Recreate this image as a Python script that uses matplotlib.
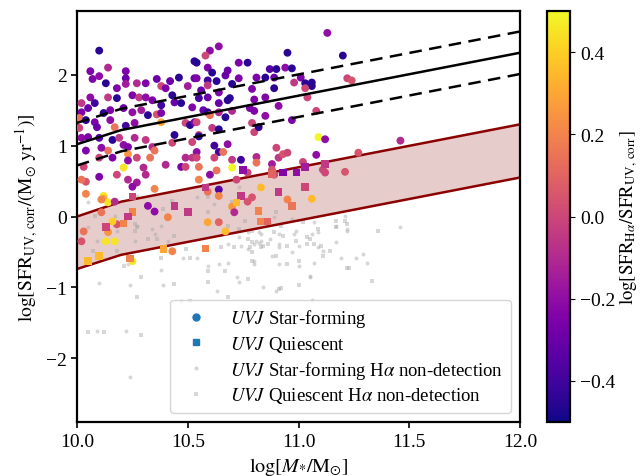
import numpy as np
import matplotlib
matplotlib.use('Agg')
import matplotlib.pyplot as plt
from matplotlib.lines import Line2D

plt.rcParams['font.family'] = ['Liberation Serif', 'DejaVu Serif']
plt.rcParams['mathtext.fontset'] = 'stix'
plt.rcParams['font.size'] = 14

# UVJ star-forming, H-alpha detected: mass, SFR_UV, log(SFR_Ha/SFR_UV)
sf_data = [
    (10.10, 2.34, -0.45), (10.06, 2.05, -0.25), (10.14, 2.10, -0.10), (10.07, 1.94, -0.25),
    (10.10, 1.98, -0.20), (10.13, 1.88, -0.45), (10.22, 2.05, -0.25), (10.22, 1.95, -0.30),
    (10.22, 1.87, -0.15), (10.18, 1.81, -0.25), (10.27, 1.88, -0.10), (10.31, 1.88, -0.25),
    (10.36, 1.94, -0.30), (10.38, 1.84, 0.00), (10.40, 1.81, -0.25), (10.42, 1.91, -0.30),
    (10.46, 1.96, -0.45), (10.50, 1.84, -0.15), (10.53, 2.19, -0.45), (10.53, 1.95, -0.30),
    (10.06, 1.68, -0.20), (10.02, 1.60, -0.05), (10.08, 1.60, -0.40), (10.14, 1.68, -0.05),
    (10.18, 1.67, -0.45), (10.25, 1.71, -0.25), (10.28, 1.68, -0.05), (10.31, 1.68, -0.20),
    (10.34, 1.64, -0.25), (10.38, 1.57, -0.40), (10.43, 1.71, -0.45), (10.44, 1.61, -0.30),
    (10.47, 1.60, -0.45), (10.52, 1.54, -0.25), (10.02, 1.47, -0.25), (10.05, 1.53, -0.30),
    (10.12, 1.46, -0.45), (10.15, 1.50, -0.25), (10.21, 1.53, -0.30), (10.25, 1.47, -0.20),
    (10.29, 1.50, -0.15), (10.32, 1.43, -0.45), (10.36, 1.44, 0.05), (10.38, 1.46, -0.25),
    (10.01, 1.39, 0.15), (10.04, 1.36, -0.45), (10.08, 1.33, -0.25), (10.15, 1.36, -0.20),
    (10.17, 1.26, 0.15), (10.22, 1.28, -0.40), (10.26, 1.32, -0.20), (10.38, 1.33, 0.30),
    (10.49, 1.32, 0.00), (10.51, 1.29, -0.45), (10.53, 1.33, -0.25),
    (10.04, 0.93, -0.25), (10.14, 0.93, 0.15), (10.11, 0.97, -0.20), (10.16, 1.08, -0.45),
    (10.19, 1.11, -0.05), (10.21, 1.01, -0.20), (10.23, 0.98, -0.25), (10.26, 1.11, -0.10),
    (10.31, 1.08, -0.05), (10.34, 0.98, -0.10), (10.35, 0.93, 0.15), (10.23, 0.88, 0.25),
    (10.23, 0.79, -0.20), (10.27, 0.83, 0.00), (10.33, 0.83, 0.15), (10.16, 0.83, -0.25),
    (10.10, 0.83, 0.00), (10.21, 0.69, 0.45), (10.30, 0.69, -0.10), (10.40, 0.73, -0.10),
    (10.47, 0.70, -0.25), (10.49, 0.83, -0.10), (10.52, 0.83, -0.05), (10.52, 1.05, 0.00),
    (10.44, 1.15, -0.45), (10.10, 0.56, -0.25), (10.18, 0.59, 0.00), (10.23, 0.52, -0.10),
    (10.27, 0.48, -0.15), (10.31, 0.59, -0.10), (10.35, 0.39, 0.20), (10.04, 0.32, 0.20),
    (10.12, 0.29, 0.45), (10.12, 0.25, 0.30), (10.14, 0.20, 0.45), (10.17, 0.21, -0.10),
    (10.32, 0.15, -0.20), (10.25, 0.42, -0.20), (10.04, 0.49, 0.05),
    (10.64, 2.40, -0.20), (10.60, 2.34, -0.20), (10.58, 2.27, 0.00), (10.54, 2.17, -0.45),
    (10.73, 2.17, -0.25), (10.77, 2.17, -0.45), (10.95, 2.31, -0.45), (10.59, 2.10, -0.25),
    (10.61, 2.03, -0.45), (10.68, 2.06, -0.30), (10.67, 1.99, -0.30), (10.54, 1.95, -0.25),
    (10.59, 1.92, -0.40), (10.63, 1.91, -0.45), (10.73, 1.95, -0.25), (10.81, 1.96, -0.25),
    (10.85, 1.96, -0.45), (10.87, 2.08, -0.35), (10.90, 2.08, -0.45), (10.94, 2.10, -0.20),
    (10.97, 2.09, -0.45), (10.59, 1.85, -0.05), (10.89, 1.96, -0.30), (10.89, 1.81, -0.45),
    (10.98, 1.89, -0.05), (11.01, 1.96, -0.25), (11.03, 1.88, -0.45), (11.06, 1.89, -0.45),
    (11.06, 1.84, -0.45), (11.03, 1.81, 0.00), (10.56, 1.78, -0.30), (10.64, 1.75, -0.25),
    (10.70, 1.87, -0.45), (10.79, 1.80, -0.25), (10.55, 1.67, -0.40), (10.59, 1.68, -0.30),
    (10.64, 1.60, -0.30), (10.68, 1.64, -0.45), (10.69, 1.67, -0.45), (10.80, 1.65, -0.25),
    (10.85, 1.68, -0.25), (11.04, 1.68, 0.00), (10.57, 1.50, -0.30), (10.59, 1.47, -0.45),
    (10.64, 1.47, -0.10), (10.78, 1.53, -0.25), (10.80, 1.49, -0.25), (10.91, 1.56, -0.20),
    (11.08, 1.49, 0.00), (10.60, 1.43, 0.15), (10.67, 1.40, -0.45), (10.70, 1.49, -0.10),
    (10.85, 1.42, -0.20), (10.54, 1.33, 0.00), (10.79, 1.32, 0.00), (10.97, 1.36, -0.25),
    (11.13, 2.59, -0.20), (11.20, 2.27, -0.45), (11.22, 1.95, 0.00), (11.24, 1.92, 0.05),
    (11.09, 1.12, 0.50), (11.12, 1.09, -0.20), (11.46, 1.07, -0.10),
    (10.55, 1.15, 0.00), (10.61, 1.25, -0.05), (10.64, 1.23, -0.45), (10.80, 1.19, 0.00),
    (10.82, 1.26, -0.45), (10.62, 1.00, -0.40), (10.68, 1.02, -0.20), (10.64, 0.91, -0.40),
    (10.66, 0.91, 0.15), (10.54, 0.91, -0.20), (10.54, 0.83, 0.00), (10.62, 0.83, 0.00),
    (10.70, 0.80, -0.05), (10.74, 0.80, -0.40), (10.81, 0.84, -0.10), (10.81, 0.76, 0.15),
    (10.90, 0.97, 0.00), (10.91, 0.83, -0.05), (10.93, 0.88, 0.05), (10.95, 0.90, 0.00),
    (10.55, 0.70, 0.15), (10.70, 0.69, 0.50), (10.63, 0.65, 0.15), (10.77, 0.62, 0.00),
    (10.88, 0.74, -0.15), (11.02, 0.77, 0.00), (11.08, 0.87, -0.20), (10.60, 0.59, -0.20),
    (10.55, 0.52, 0.20), (10.72, 0.52, 0.00), (11.12, 0.62, 0.00), (11.11, 0.66, 0.00),
    (10.89, 0.59, 0.00), (10.88, 0.66, 0.05), (11.21, 0.63, 0.05), (11.27, 0.90, 0.05),
    (10.83, 0.41, 0.35), (11.06, 0.25, 0.35), (10.95, 0.24, 0.20), (10.79, 0.27, 0.05),
    (10.77, 0.21, 0.05), (10.64, 0.38, -0.35), (10.64, 0.29, 0.20), (10.59, 0.35, 0.15),
    (10.70, 0.14, 0.25), (10.71, 0.06, -0.10), (10.55, 1.13, -0.45), (10.43, 1.04, 0.00),
    (10.49, 0.70, 0.00), (10.02, 1.11, -0.20), (10.01, 1.25, 0.00), (10.03, 0.70, 0.00),
    (10.02, 0.52, 0.15), (10.05, 1.12, -0.25), (10.09, 1.26, -0.30), (10.10, 1.11, -0.35),
    (10.11, 0.24, 0.20), (10.35, 0.07, -0.20), (10.41, -0.01, 0.20), (10.11, 0.06, 0.15),
    (10.18, -0.11, 0.05), (10.16, -0.07, 0.40), (10.03, -0.21, 0.15), (10.02, -0.35, 0.05),
    (10.14, -0.22, 0.25), (10.13, -0.35, 0.45), (10.17, -0.35, 0.45), (10.25, -0.63, 0.45),
    (10.43, -0.49, 0.20), (10.59, -0.08, 0.30), (10.64, -0.08, 0.10), (10.67, -0.21, 0.35),
]

# UVJ quiescent, H-alpha detected
q_data = [
    (10.25, 0.28, 0.00), (10.44, 0.15, -0.05), (10.50, 0.06, -0.05), (10.25, 0.06, 0.20),
    (10.23, 0.00, -0.05), (10.75, 0.66, -0.20), (10.93, 0.62, -0.25), (10.99, 0.62, -0.20),
    (11.03, 0.70, -0.15), (11.03, 0.42, 0.00), (10.91, 0.35, -0.05), (10.74, 0.29, -0.05),
    (10.82, 0.08, 0.20), (10.72, 0.20, 0.35), (10.97, 0.15, 0.15), (11.12, 0.74, -0.05),
    (10.88, 0.60, 0.10), (10.21, -0.10, 0.20), (10.13, -0.15, 0.00), (10.05, -0.63, 0.35),
    (10.10, -0.56, 0.35), (10.24, -0.59, 0.20), (10.39, -0.46, 0.30), (10.58, -0.45, 0.20),
    (10.83, -0.07, 0.20), (10.86, -0.07, 0.10), (10.58, 0.41, -0.05),
]
sf_mass = [d[0] for d in sf_data]
sf_sfr = [d[1] for d in sf_data]
sf_ratio = [d[2] for d in sf_data]
q_mass = [d[0] for d in q_data]
q_sfr = [d[1] for d in q_data]
q_ratio = [d[2] for d in q_data]

# H-alpha non-detections (star-forming)
nd_sf = [
    (10.59, -0.70), (10.64, -0.67), (10.68, -0.65), (10.68, -0.39), (10.74, -0.41),
    (10.80, -0.39), (10.83, -0.35), (10.87, -0.32), (10.91, -0.25), (10.91, -0.39),
    (10.98, -0.25), (11.00, -0.42), (11.06, -0.25), (11.09, -0.43), (11.17, -0.36),
    (11.22, -0.18), (11.26, -0.58), (11.29, -0.53), (11.05, -0.86), (10.91, -0.67),
    (10.90, -1.05), (10.84, -1.00), (10.73, -0.93), (10.72, -0.86), (10.63, -1.05),
    (11.06, -1.18), (10.80, -0.67), (10.77, -0.22), (10.82, -0.22), (10.82, -0.38),
    (10.05, -0.15), (10.09, -0.35), (10.18, -0.21), (10.23, -0.67), (10.27, -0.14),
    (10.34, -0.18), (10.38, -0.14), (10.41, -0.34), (10.48, -0.58), (10.54, -0.58),
    (10.38, -0.76), (10.24, -0.97), (10.39, -0.97), (10.47, -1.19), (10.10, -0.94),
    (10.09, -1.61), (10.22, -1.61), (10.24, -2.26), (11.21, 0.01), (11.22, -0.20),
    (11.17, -0.14), (11.46, -0.15), (11.31, -0.65), (11.19, -0.58), (11.05, -0.84),
    (10.81, -0.35), (11.09, -0.22), (11.07, -0.65), (11.00, -0.70), (10.88, -0.56),
    (10.80, -0.63), (10.97, -0.50), (10.99, -0.21), (10.91, -0.43), (10.05, 0.20),
    (10.17, 0.01), (10.26, -0.35), (10.35, -0.25), (10.62, 0.17), (10.73, -0.29),
    (10.77, -0.46), (10.83, -0.25), (10.89, 0.00), (10.97, -0.04), (11.07, -0.08),
    (11.11, -0.49), (10.27, 0.29), (10.73, 0.42), (10.54, 0.27),
]
# H-alpha non-detections (quiescent)
nd_q = [
    (10.59, -0.77), (10.67, -0.77), (10.65, -0.43), (10.71, -0.43), (10.78, -0.43),
    (10.83, -0.43), (10.86, -0.39), (10.89, -0.22), (10.93, -0.28), (10.95, -0.41),
    (10.99, -0.35), (11.04, -0.39), (11.07, -0.39), (11.11, -0.56), (11.17, -0.15),
    (11.21, -0.07), (11.22, -0.72), (11.33, -0.91), (11.00, -0.97), (10.95, -0.67),
    (10.91, -1.02), (10.79, -0.63), (10.77, -0.88), (10.59, -0.93), (10.68, -1.14),
    (10.84, -0.42), (10.73, -0.18), (10.79, -0.20), (10.77, -0.32), (10.07, -0.49),
    (10.18, -0.48), (10.21, -0.70), (10.26, -0.21), (10.32, -0.32), (10.36, -0.32),
    (10.38, -0.58), (10.44, -0.28), (10.51, -0.59), (10.49, -0.46), (10.29, -0.86),
    (10.27, -1.14), (10.44, -0.95), (10.51, -1.19), (10.05, -1.63), (10.12, -1.63),
    (10.29, -1.67), (11.22, -0.10), (11.17, -0.07), (11.36, -0.20), (11.23, -0.73),
    (10.92, -1.01), (11.02, -0.08), (11.14, -0.48), (11.00, -0.63), (10.90, -0.56),
    (10.79, -0.50), (11.05, -0.32), (11.10, -0.42), (10.08, 0.01), (10.26, -0.11),
    (10.27, -0.15), (10.59, 0.07), (10.68, -0.14), (10.76, -0.07), (10.79, -0.36),
    (10.90, 0.07), (10.92, -0.14), (11.04, -0.29), (11.09, -0.18), (10.39, 0.10),
    (10.70, 0.20), (10.59, 0.28), (10.43, 0.22),
]

# main sequence and band
ms_mass = [10.0, 10.2, 12.0]
ms_sfr = [1.02, 1.22, 2.31]
ms_scatter = 0.3
band_hi = [0.00, 0.21, 1.30]
band_lo = [-0.74, -0.54, 0.55]

fig = plt.figure(figsize=(6.42, 4.77), dpi=100)
ax = fig.add_axes([0.12, 0.113, 0.69, 0.862])
cax = fig.add_axes([0.852, 0.113, 0.036, 0.862])

grey = '#a8a8a8'
ax.scatter([d[0] for d in nd_sf], [d[1] for d in nd_sf], s=8, marker='o', color=grey,
           alpha=0.45, linewidths=0, zorder=1)
ax.scatter([d[0] for d in nd_q], [d[1] for d in nd_q], s=8, marker='s', color=grey,
           alpha=0.45, linewidths=0, zorder=1)

ax.fill_between(ms_mass, band_lo, band_hi, color='darkred', alpha=0.2, linewidth=0, zorder=0)
ax.plot(ms_mass, band_hi, color='darkred', lw=1.8, zorder=2)
ax.plot(ms_mass, band_lo, color='darkred', lw=1.8, zorder=2)

sc = ax.scatter(sf_mass, sf_sfr, c=sf_ratio, cmap='plasma', vmin=-0.5, vmax=0.5,
                s=32, marker='o', linewidths=0, zorder=3)
ax.scatter(q_mass, q_sfr, c=q_ratio, cmap='plasma', vmin=-0.5, vmax=0.5,
           s=30, marker='s', linewidths=0, zorder=3)

ms = np.array(ms_sfr)
ax.plot(ms_mass, ms, color='k', lw=1.8, zorder=4)
ax.plot(ms_mass, ms + ms_scatter, color='k', lw=1.8, ls='--', dashes=(5, 3), zorder=4)
ax.plot(ms_mass, ms - ms_scatter, color='k', lw=1.8, ls='--', dashes=(5, 3), zorder=4)

ax.set_xlim(10.0, 12.0)
ax.set_ylim(-2.9, 2.9)
ax.set_xticks([10.0, 10.5, 11.0, 11.5, 12.0])
ax.set_yticks([-2, -1, 0, 1, 2])
for s in ax.spines.values():
    s.set_linewidth(1.6)
ax.tick_params(width=1.2, length=4, labelsize=14)
ax.set_xlabel(r'$\log[M_{*}/\mathrm{M}_{\odot}]$', fontsize=14.5)
ax.set_ylabel(r'$\log[\mathrm{SFR}_{\mathrm{UV,\,corr}}/(\mathrm{M}_{\odot}\ \mathrm{yr}^{-1})]$', fontsize=14)

handles = [
    Line2D([], [], ls='', marker='o', color='C0', markersize=5),
    Line2D([], [], ls='', marker='s', color='C0', markersize=5),
    Line2D([], [], ls='', marker='o', color=grey, alpha=0.45, markersize=3, markeredgewidth=0),
    Line2D([], [], ls='', marker='s', color=grey, alpha=0.45, markersize=3, markeredgewidth=0),
]
labels = [r'$UVJ$ Star-forming', r'$UVJ$ Quiescent',
          r'$UVJ$ Star-forming H$\alpha$ non-detection',
          r'$UVJ$ Quiescent H$\alpha$ non-detection']
ax.legend(handles, labels, loc='lower right', fontsize=13.5, labelspacing=0.25)

cb = fig.colorbar(sc, cax=cax)
cb.outline.set_linewidth(1.6)
cb.set_ticks([-0.4, -0.2, 0.0, 0.2, 0.4])
cb.ax.tick_params(labelsize=14)
cb.set_label(r'$\log[\mathrm{SFR}_{\mathrm{H}\alpha}/\mathrm{SFR}_{\mathrm{UV,\,corr}}]$',
             fontsize=13.5, labelpad=2)

fig.savefig('out.png', dpi=100)
